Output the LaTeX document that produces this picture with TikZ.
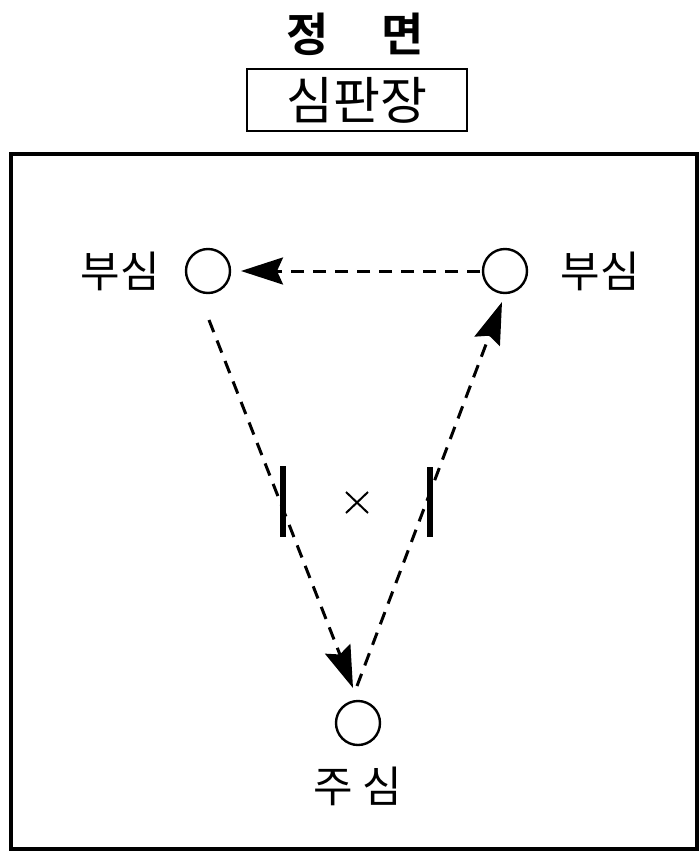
\documentclass[tikz,border=0pt]{standalone}
\usepackage{fontspec}
\newfontfamily\kr{Noto Sans CJK KR}
\newfontfamily\krb{Noto Sans CJK KR}[BoldFont={* Bold}]
\usetikzlibrary{arrows.meta}
\tikzset{
  ref/.style={circle,draw,line width=2.4pt,minimum size=44pt,inner sep=0pt},
  lbl/.style={font=\kr\fontsize{43pt}{45pt}\selectfont,inner sep=0pt},
  darrow/.style={line width=3pt,dash pattern=on 13pt off 9pt,-{Stealth[length=42pt,width=27pt,inset=6pt]}},
  bar/.style={line width=5.5pt},
}
\begin{document}
\begin{tikzpicture}[x=1pt,y=-1pt]
\useasboundingbox (0,0) rectangle (699,852);
\fill[white] (0,0) rectangle (699,852);
% title
\node[font=\krb\bfseries\fontsize{46pt}{48pt}\selectfont,inner sep=0pt] (t1) at (308,34) {정};
\node[font=\krb\bfseries\fontsize{46pt}{48pt}\selectfont,inner sep=0pt] (t2) at (403,34) {면};
\node[draw,line width=2.4pt,minimum width=220pt,minimum height=62pt,inner sep=0pt,font=\kr\fontsize{51pt}{53pt}\selectfont] (box) at (357,100) {심판장};
% frame
\draw[line width=3.5pt] (11,154) rectangle (697,849);
% referees
\node[ref] (L) at (208,271) {};
\node[ref] (R) at (505,271) {};
\node[ref] (M) at (358,723) {};
\node[lbl] (Ll) at (120,271) {부심};
\node[lbl] (Rl) at (600,271) {부심};
\node[lbl] (Ml) at (358,786) {주\hspace{10pt}심};
% arrow coordinates
\coordinate (hs) at (480,271);
\coordinate (he) at (241,271);
\coordinate (ls) at (209,320);
\coordinate (le) at (353,688);
\coordinate (rs) at (357,686);
\coordinate (re) at (502,302);
\draw[darrow] (hs) -- (he);
\draw[darrow] (ls) -- (le);
\draw[darrow] (rs) -- (re);
% bars (goals)
\coordinate (b1t) at (283,466); \coordinate (b1b) at (283,537);
\coordinate (b2t) at (430,467); \coordinate (b2b) at (430,537);
\draw[bar] (b1t) -- (b1b);
\draw[bar] (b2t) -- (b2b);
% centre mark
\coordinate (x1) at (346,492); \coordinate (x2) at (368,513);
\coordinate (x3) at (346,513); \coordinate (x4) at (368,492);
\draw[line width=2pt] (x1) -- (x2) (x3) -- (x4);
\end{tikzpicture}
\end{document}
